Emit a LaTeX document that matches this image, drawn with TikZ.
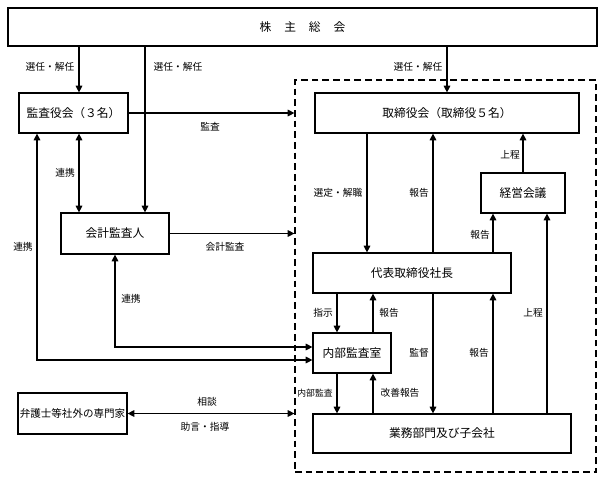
\documentclass[tikz,border=0pt]{standalone}
\usepackage{fontspec}
\newfontfamily\jpfont{Noto Sans CJK JP}
\usetikzlibrary{arrows.meta}
\begin{document}
\begin{tikzpicture}[x=0.75pt,y=-0.75pt,
  box/.style n args={2}{draw=black, line width=0.9pt, fill=white, inner sep=0pt,
    minimum width=#1*0.75pt, minimum height=#2*0.75pt,
    font=\jpfont\fontsize{8.8}{10}\selectfont},
  lbl/.style={inner sep=0pt, font=\jpfont\fontsize{7.3}{9}\selectfont},
  conn/.style={line width=0.8pt, -{Triangle[length=5pt,width=5pt]}},
  dconn/.style={line width=0.8pt, {Triangle[length=5pt,width=5pt]}-{Triangle[length=5pt,width=5pt]}}]
  \useasboundingbox (0,0) rectangle (601,480);

  % columns and rows
  \coordinate (cA) at (37,0);
  \coordinate (cB) at (79,0);
  \coordinate (cC) at (115,0);
  \coordinate (cD) at (145,0);
  \coordinate (cE) at (337,0);
  \coordinate (cF) at (367,0);
  \coordinate (cG) at (373,0);
  \coordinate (cH) at (433,0);
  \coordinate (cI) at (447,0);
  \coordinate (cJ) at (493,0);
  \coordinate (cL) at (547,0);
  \coordinate (rC) at (0,347);
  \coordinate (rD) at (0,360);

  % group frame
  \node[draw=black, line width=0.9pt, dash pattern=on 5pt off 3pt, inner sep=0pt,
    minimum width=301*0.75pt, minimum height=392*0.75pt] (grp) at (445.5,276) {};

  % boxes
  \node[box={589}{38}] (soukai) at (302.5,27) {株\hspace{1.1em}主\hspace{1.1em}総\hspace{1.1em}会};
  \node[box={109}{40}] (kansayaku) at (73.5,113) {監査役会（３名）};
  \node[box={264}{40}] (torishimari) at (447,113) {取締役会（取締役５名）};
  \node[box={108}{41}] (kaikei) at (115,233.5) {会計監査人};
  \node[box={84}{40}] (keiei) at (523,193) {経営会議};
  \node[box={198}{40}] (daihyo) at (412,273) {代表取締役社長};
  \node[box={78}{40}] (naibu) at (352,353) {内部監査室};
  \node[box={258}{39}] (gyomu) at (442,433.5) {業務部門及び子会社};
  \node[box={109}{41}, font=\jpfont\fontsize{7.9}{9}\selectfont] (bengo) at (72.5,413.5) {弁護士等社外の専門家};

  % connectors
  \draw[conn] (soukai.south -| cB) -- (kansayaku.north -| cB);
  \draw[conn] (soukai.south -| cD) -- (kaikei.north -| cD);
  \draw[conn] (soukai.south -| cI) -- (torishimari.north -| cI);
  \draw[conn] (kansayaku.east) -- (kansayaku.east -| grp.west);
  \draw[dconn] (kansayaku.south -| cB) -- (kaikei.north -| cB);
  \draw[conn] (kaikei.east) -- (kaikei.east -| grp.west);
  \draw[dconn] (kansayaku.south -| cA) |- (naibu.west |- rD);
  \draw[dconn] (kaikei.south -| cC) |- (naibu.west |- rC);
  \draw[conn] (torishimari.south -| cF) -- (daihyo.north -| cF);
  \draw[conn] (daihyo.north -| cH) -- (torishimari.south -| cH);
  \draw[conn] (keiei.north) -- (torishimari.south -| keiei.north);
  \draw[conn] (daihyo.north -| cJ) -- (keiei.south -| cJ);
  \draw[conn] (gyomu.north -| cL) -- (keiei.south -| cL);
  \draw[conn] (daihyo.south -| cE) -- (naibu.north -| cE);
  \draw[conn] (naibu.north -| cG) -- (daihyo.south -| cG);
  \draw[conn] (daihyo.south -| cH) -- (gyomu.north -| cH);
  \draw[conn] (gyomu.north -| cJ) -- (daihyo.south -| cJ);
  \draw[conn] (naibu.south -| cE) -- (gyomu.north -| cE);
  \draw[conn] (gyomu.north -| cG) -- (naibu.south -| cG);
  \draw[dconn] (bengo.east) -- (bengo.east -| grp.west);

  % labels
  \node[lbl] (l1) at (50,67) {選任・解任};
  \node[lbl] (l2) at (178,67) {選任・解任};
  \node[lbl] (l3) at (418,67) {選任・解任};
  \node[lbl] (l4) at (210,127) {監査};
  \node[lbl] (l5) at (65,173) {連携};
  \node[lbl] (l6) at (23,247) {連携};
  \node[lbl] (l7) at (225,247) {会計監査};
  \node[lbl] (l8) at (131,299) {連携};
  \node[lbl] (l9) at (510,155) {上程};
  \node[lbl] (l10) at (338,193) {選定・解職};
  \node[lbl] (l11) at (419,193) {報告};
  \node[lbl] (l12) at (480,235) {報告};
  \node[lbl] (l13) at (323,313) {指示};
  \node[lbl] (l14) at (389,313) {報告};
  \node[lbl] (l15) at (533,313) {上程};
  \node[lbl] (l16) at (419,353) {監督};
  \node[lbl] (l17) at (479,353) {報告};
  \node[lbl, font=\jpfont\fontsize{6.6}{8}\selectfont] (l18) at (315,393) {内部監査};
  \node[lbl] (l19) at (400,393) {改善報告};
  \node[lbl] (l20) at (207,402) {相談};
  \node[lbl] (l21) at (205,427) {助言・指導};
\end{tikzpicture}
\end{document}
